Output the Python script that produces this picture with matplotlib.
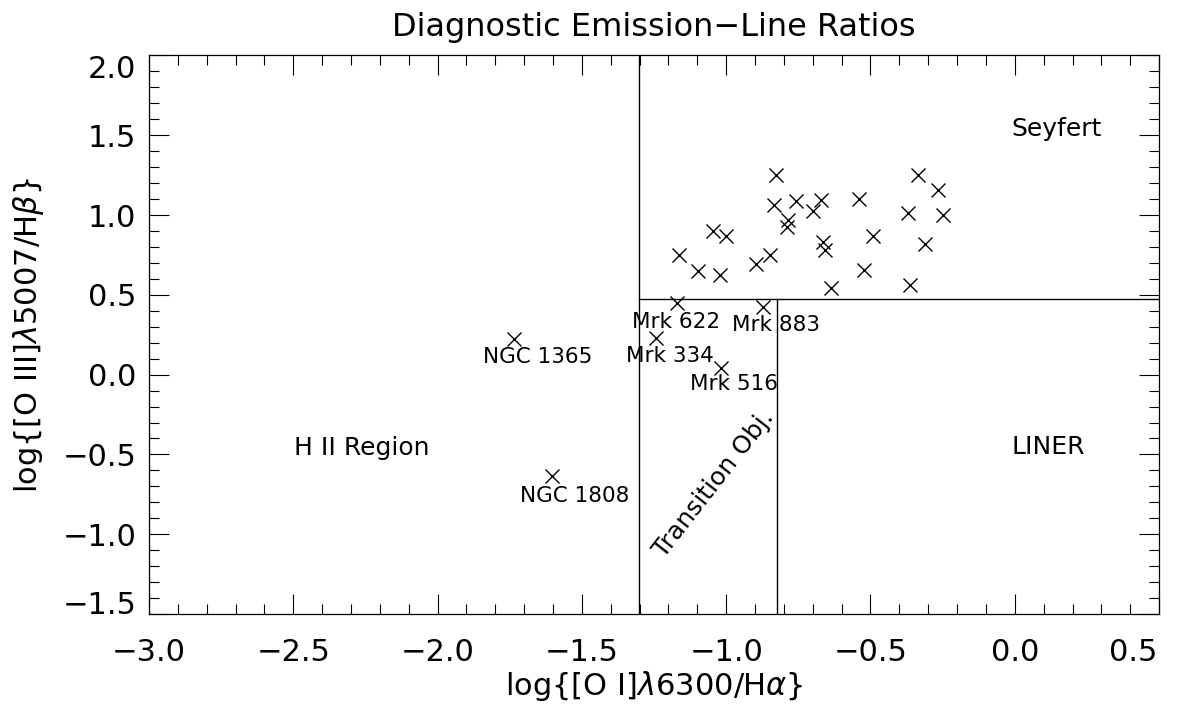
import numpy as np
import matplotlib
matplotlib.use('Agg')
import matplotlib.pyplot as plt
from matplotlib.ticker import MultipleLocator

# unlabelled objects (Seyfert region)
sey_x = [-0.828, -0.337, -0.265, -0.834, -0.758, -0.672, -0.700, -0.539, -0.369,
         -0.248, -0.785, -0.788, -1.045, -1.001, -0.490, -0.666, -0.658, -0.311,
         -1.164, -0.848, -0.898, -1.099, -1.022, -0.521, -0.637, -0.363]
sey_y = [1.248, 1.254, 1.154, 1.060, 1.087, 1.095, 1.028, 1.101, 1.014,
         1.001, 0.966, 0.928, 0.903, 0.871, 0.871, 0.830, 0.782, 0.819,
         0.752, 0.752, 0.694, 0.652, 0.627, 0.656, 0.541, 0.564]

# labelled objects
names = ['NGC 1365', 'NGC 1808', 'Mrk 622', 'Mrk 883', 'Mrk 334', 'Mrk 516']
lab_x = [-1.734, -1.603, -1.172, -0.874, -1.244, -1.019]
lab_y = [0.224, -0.634, 0.449, 0.422, 0.230, 0.040]
lab_off = [(16.5, -13), (16.5, -14.5), (0, -13.5), (10, -12.5), (10, -13), (9.5, -11.5)]

# dividing lines
oi_hii = np.log10(0.05)
oi_liner = np.log10(0.15)
oiii_sey = np.log10(3.0)

xmin, xmax = -3.0, 0.5
ymin, ymax = -1.5, 2.0
TS = 22

fig = plt.figure(figsize=(11.87, 7.06), dpi=100)
ax = fig.add_axes([0.1255, 0.1303, 0.851, 0.7911])

ax.plot(sey_x, sey_y, 'x', color='k', ms=9.5, mew=1.0)
ax.plot(lab_x, lab_y, 'x', color='k', ms=9.5, mew=1.0)
for n, x, y, off in zip(names, lab_x, lab_y, lab_off):
    ax.annotate(n, (x, y), xytext=off, textcoords='offset points',
                ha='center', va='center', fontsize=15.5)

ax.axvline(oi_hii, color='k', lw=1)
ax.plot([oi_hii, xmax], [oiii_sey, oiii_sey], color='k', lw=1)
ax.plot([oi_liner, oi_liner], [ymin, oiii_sey], color='k', lw=1)

ax.text(0.146, 1.54, 'Seyfert', ha='center', va='center', fontsize=18)
ax.text(0.116, -0.455, 'LINER', ha='center', va='center', fontsize=18)
ax.text(-2.262, -0.46, 'H II Region', ha='center', va='center', fontsize=18)
ax.text(-1.042, -0.683, 'Transition Obj.', ha='center', va='center',
        fontsize=18, rotation=52, rotation_mode='anchor')

def fmt(v):
    return f'{v:.1f}'.replace('-', '\u2212')

ax.set_xlim(xmin, xmax)
ax.set_ylim(ymin, ymax)
ax.xaxis.set_major_locator(MultipleLocator(0.5))
ax.xaxis.set_minor_locator(MultipleLocator(0.1))
ax.yaxis.set_major_locator(MultipleLocator(0.5))
ax.yaxis.set_minor_locator(MultipleLocator(0.1))
# end labels are drawn separately, shifted inward as in the original
ax.xaxis.set_major_formatter(lambda v, p: '' if abs(v - xmax) < 1e-6 else fmt(v))
ax.yaxis.set_major_formatter(lambda v, p: '' if abs(v - ymax) < 1e-6 or abs(v - ymin) < 1e-6 else fmt(v))
ax.tick_params(which='both', direction='in', top=True, right=True, width=0.8, labelsize=TS)
ax.tick_params(which='major', length=14.4)
ax.tick_params(which='minor', length=7.2)
ax.tick_params(axis='x', pad=17)
ax.tick_params(axis='y', pad=9)
for s in ax.spines.values():
    s.set_linewidth(0.9)

ax.annotate(fmt(xmax), (xmax, 0), xycoords=('data', 'axes fraction'),
            xytext=(-1, -17), textcoords='offset points', ha='right', va='top', fontsize=TS)
ax.annotate(fmt(ymax), (0, ymax), xycoords=('axes fraction', 'data'),
            xytext=(-9, -10), textcoords='offset points', ha='right', va='center', fontsize=TS)
ax.annotate(fmt(ymin), (0, ymin), xycoords=('axes fraction', 'data'),
            xytext=(-9, 6), textcoords='offset points', ha='right', va='center', fontsize=TS)

ax.set_title('Diagnostic Emission\u2212Line Ratios', fontsize=23, pad=14)
ax.set_xlabel(r'log$\{$[O I]$\lambda$6300/H$\alpha\}$', fontsize=TS, labelpad=2)
ax.set_ylabel(r'log$\{$[O III]$\lambda$5007/H$\beta\}$', fontsize=TS, labelpad=12)

fig.savefig('out.png', dpi=100)
